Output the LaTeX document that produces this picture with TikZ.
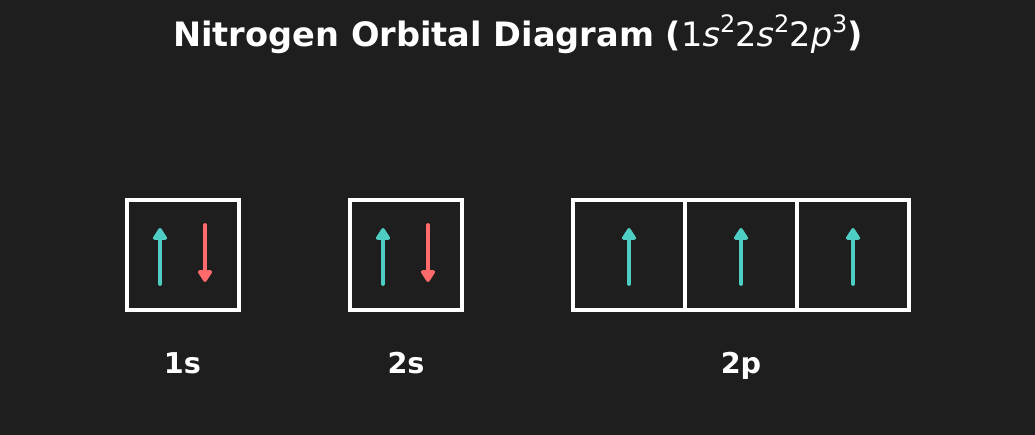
\documentclass[tikz,border=0pt]{standalone}
\usepackage{fontspec}
\setmainfont{DejaVu Sans}
\usepackage{xcolor}
\usepackage{tikz}
\usetikzlibrary{shapes,arrows.meta}
\definecolor{bgdark}{HTML}{1E1E1E}
\definecolor{spinteal}{HTML}{4ECDC4}
\definecolor{spinred}{HTML}{FF6B6B}
\tikzstyle{orbital} = [rectangle, draw=white, line width=3pt, minimum width=84pt, minimum height=82.5pt, inner sep=0pt]
\tikzstyle{spinup} = [draw=spinteal, line width=2.8pt, line cap=round, -{Triangle[length=10pt,width=12pt,round]}]
\tikzstyle{spindown} = [draw=spinred, line width=2.8pt, line cap=round, -{Triangle[length=10pt,width=12pt,round]}]
\tikzstyle{label} = [text=white, font=\fontsize{21.5}{21.5}\selectfont\bfseries, anchor=base, inner sep=0pt]
\newcommand{\supnum}[1]{\raisebox{0.42em}{\fontsize{18}{18}\selectfont #1}}

\begin{document}
\begin{tikzpicture}[x=0.75pt, y=-0.75pt]
\fill [bgdark] (0,0) rectangle (1035,435);
\useasboundingbox (0,0) rectangle (1035,435);
\node [text=white, anchor=base, inner sep=0pt, font=\fontsize{25.2}{25.2}\selectfont] (title) at (518,47)
  {\textbf{Nitrogen Orbital Diagram (}1\textit{s}\supnum{2}2\textit{s}\supnum{2}2\textit{p}\supnum{3}\textbf{)}};
% boxes
\node [orbital] (box1s) at (182.5,255) {};
\node [orbital] (box2s) at (406,255) {};
\node [orbital] (box2px) at (629,255) {};
\node [orbital] (box2py) at (741,255) {};
\node [orbital] (box2pz) at (853,255) {};
% electrons
\coordinate (up1sa) at (160,284);  \coordinate (up1sb) at (160,228);
\coordinate (dn1sa) at (205,225);  \coordinate (dn1sb) at (205,282);
\coordinate (up2sa) at (383,284);  \coordinate (up2sb) at (383,228);
\coordinate (dn2sa) at (428,225);  \coordinate (dn2sb) at (428,282);
\path [spinup] (up1sa) -- (up1sb);
\path [spindown] (dn1sa) -- (dn1sb);
\path [spinup] (up2sa) -- (up2sb);
\path [spindown] (dn2sa) -- (dn2sb);
\foreach \px/\nm in {629/x, 741/y, 853/z} {
  \coordinate (up2p\nm a) at (\px,284);
  \coordinate (up2p\nm b) at (\px,228);
  \path [spinup] (up2p\nm a) -- (up2p\nm b);
}
% labels
\node [label] (lab1s) at (182.5,373) {1s};
\node [label] (lab2s) at (406,373) {2s};
\node [label] (lab2p) at (741,373) {2p};
\end{tikzpicture}
\end{document}
